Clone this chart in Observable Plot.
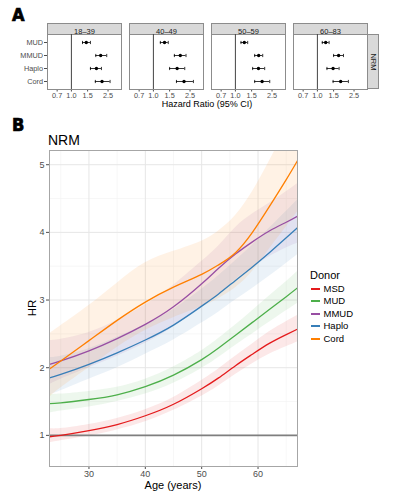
<!DOCTYPE html>
<html><head><meta charset="utf-8">
<script src="https://cdn.jsdelivr.net/npm/d3@7"></script>
<script src="https://cdn.jsdelivr.net/npm/@observablehq/plot@0.6"></script>
<style>
body{margin:0;background:#fff;font-family:"Liberation Sans",Arial,sans-serif;}
#wrap{position:relative;width:393px;height:500px;overflow:hidden;background:#fff;}
.abs{position:absolute;white-space:nowrap;line-height:1;}
.plot{position:absolute;left:0;}
.letter{font-family:"Liberation Sans Narrow","DejaVu Sans Condensed",sans-serif;font-weight:bold;font-size:18px;color:#000;-webkit-text-stroke:0.7px #000;}
</style></head><body><div id="wrap"></div>
<script>
// ---- Panel A data ----
const ageGroups = ["18–39", "40–49", "50–59", "60–83"];
const donorsA = ["MUD", "MMUD", "Haplo", "Cord"];
const hrA = [[1.45, 2.08, 1.87, 2.15], [1.32, 1.96, 1.81, 2.15], [1.25, 1.79, 1.78, 1.95], [1.23, 1.70, 1.48, 1.79]];
const loA = [[1.32, 1.84, 1.61, 1.82], [1.19, 1.69, 1.50, 1.78], [1.15, 1.62, 1.54, 1.62], [1.13, 1.50, 1.27, 1.48]];
const hiA = [[1.61, 2.42, 2.12, 2.63], [1.45, 2.26, 2.19, 2.72], [1.36, 1.98, 2.08, 2.36], [1.34, 1.92, 1.72, 2.17]];
const xTicksA = [0.7, 1.0, 1.5, 2.5];

// ---- Panel B data ----
const donorsB = ["MSD", "MUD", "MMUD", "Haplo", "Cord"];
const colorsB = ["#E41A1C", "#4DAF4A", "#984EA3", "#377EB8", "#FF7F00"];
const ages = [23, 25, 30, 35, 40, 45, 50, 53, 56, 59, 62, 65, 67];
const hrMSD = [0.98, 1.0, 1.07, 1.16, 1.29, 1.46, 1.69, 1.85, 2.03, 2.2, 2.36, 2.49, 2.57];
const loMSD = [0.89, 0.92, 0.99, 1.08, 1.2, 1.37, 1.58, 1.73, 1.9, 2.06, 2.2, 2.31, 2.38];
const hiMSD = [1.1, 1.1, 1.16, 1.25, 1.38, 1.56, 1.81, 1.98, 2.17, 2.35, 2.53, 2.68, 2.77];
const hrMUD = [1.47, 1.48, 1.53, 1.6, 1.72, 1.89, 2.12, 2.29, 2.48, 2.67, 2.86, 3.05, 3.18];
const loMUD = [1.33, 1.36, 1.42, 1.5, 1.61, 1.77, 1.99, 2.15, 2.33, 2.5, 2.67, 2.84, 2.95];
const hiMUD = [1.61, 1.61, 1.65, 1.71, 1.83, 2.01, 2.25, 2.43, 2.63, 2.84, 3.06, 3.27, 3.42];
const hrMMUD = [2.05, 2.1, 2.25, 2.43, 2.64, 2.9, 3.24, 3.47, 3.68, 3.86, 4.02, 4.15, 4.24];
const loMMUD = [1.75, 1.83, 2.0, 2.17, 2.36, 2.6, 2.9, 3.08, 3.3, 3.48, 3.64, 3.77, 3.84];
const hiMMUD = [2.4, 2.42, 2.52, 2.7, 2.93, 3.22, 3.57, 3.8, 4.07, 4.27, 4.43, 4.6, 4.72];
const hrHaplo = [1.85, 1.9, 2.05, 2.22, 2.41, 2.63, 2.91, 3.09, 3.29, 3.49, 3.7, 3.92, 4.07];
const loHaplo = [1.6, 1.66, 1.83, 2.0, 2.2, 2.41, 2.66, 2.82, 3.0, 3.17, 3.35, 3.54, 3.67];
const hiHaplo = [2.15, 2.17, 2.28, 2.45, 2.63, 2.86, 3.16, 3.36, 3.58, 3.81, 4.06, 4.31, 4.48];
const hrCord = [1.98, 2.1, 2.4, 2.7, 2.97, 3.19, 3.38, 3.52, 3.7, 4.0, 4.38, 4.78, 5.06];
const loCord = [1.56, 1.7, 2.0, 2.3, 2.55, 2.74, 2.9, 3.02, 3.18, 3.42, 3.75, 4.08, 4.3];
const hiCord = [2.5, 2.62, 2.92, 3.25, 3.55, 3.72, 3.87, 4.02, 4.25, 4.6, 5.05, 5.55, 5.95];
const ageTicks = [30, 40, 50, 60];
const ageMinor = [25, 35, 45, 55, 65];
const hrTicks = [1, 2, 3, 4, 5];
const hrMinor = [1.5, 2.5, 3.5, 4.5];

const wrap = document.getElementById("wrap");
function addDiv(html, css, cls) {
  const d = document.createElement("div");
  d.className = "abs" + (cls ? " " + cls : "");
  d.innerHTML = html;
  Object.assign(d.style, css);
  wrap.appendChild(d);
  return d;
}

// vertical bar symbol for error-bar caps
const capSymbol = {
  draw(context, size) {
    const h = Math.sqrt(size / Math.PI);
    context.moveTo(0, -h);
    context.lineTo(0, h);
  }
};

// ---- Panel A ----
const rowsA = [];
ageGroups.forEach((g, i) => donorsA.forEach((d, j) =>
  rowsA.push({group: g, donor: d, hr: hrA[i][j], lo: loA[i][j], hi: hiA[i][j]})));

const plotA = Plot.plot({
  width: 393, height: 115,
  marginLeft: 46, marginRight: 26, marginTop: 34, marginBottom: 26,
  style: {fontFamily: "'Liberation Sans', Arial, sans-serif", fontSize: "7.3px", color: "#4d4d4d", background: "transparent", overflow: "visible"},
  fx: {domain: ageGroups, paddingInner: 0.1, paddingOuter: 0, axis: null, label: null},
  x: {type: "log", domain: [0.55, 3.5], ticks: xTicksA, tickFormat: d3.format(".1f"), tickSize: 2.5, tickPadding: 1, label: null},
  y: {type: "point", domain: donorsA, padding: 0.615, tickSize: 3, tickPadding: 1.5, label: null},
  marks: [
    Plot.frame({stroke: "#8c8c8c", fill: "white"}),
    Plot.frame({fill: "#d9d9d9", stroke: "#8c8c8c", insetTop: -11, insetBottom: 55}),
    Plot.text(ageGroups, {fx: d => d, text: d => d, frameAnchor: "top", dy: -5.5, fill: "#1a1a1a", fontSize: 7.5}),
    Plot.ruleX([1], {stroke: "#444", strokeWidth: 1}),
    Plot.ruleY(rowsA, {fx: "group", y: "donor", x1: "lo", x2: "hi", stroke: "black", strokeWidth: 0.8}),
    Plot.dot(rowsA, {fx: "group", y: "donor", x: "lo", symbol: capSymbol, r: 1.6, stroke: "black", strokeWidth: 0.8, fill: "none"}),
    Plot.dot(rowsA, {fx: "group", y: "donor", x: "hi", symbol: capSymbol, r: 1.6, stroke: "black", strokeWidth: 0.8, fill: "none"}),
    Plot.dot(rowsA, {fx: "group", y: "donor", x: "hr", r: 1.7, fill: "black", stroke: "none"})
  ]
});
plotA.classList.add("plot");
plotA.style.top = "0px";
wrap.appendChild(plotA);

// NRM right strip for panel A
const strip = addDiv("", {left: "367px", top: "34px", width: "12px", height: "55px", background: "#d9d9d9", border: "1px solid #8c8c8c", boxSizing: "border-box"});
const stripTxt = document.createElement("div");
stripTxt.textContent = "NRM";
Object.assign(stripTxt.style, {position: "absolute", left: "50%", top: "50%", transform: "translate(-50%,-50%) rotate(90deg)", fontSize: "7.5px", color: "#1a1a1a", lineHeight: "1", whiteSpace: "nowrap"});
strip.appendChild(stripTxt);

addDiv("Hazard Ratio (95% CI)", {left: "107px", width: "200px", textAlign: "center", top: "100px", fontSize: "9px", color: "#000"});
addDiv("A", {left: "12px", top: "6px"}, "letter");
addDiv("B", {left: "12px", top: "116px"}, "letter");

// ---- Panel B ----
const series = [
  {name: "MSD", hr: hrMSD, lo: loMSD, hi: hiMSD},
  {name: "MUD", hr: hrMUD, lo: loMUD, hi: hiMUD},
  {name: "MMUD", hr: hrMMUD, lo: loMMUD, hi: hiMMUD},
  {name: "Haplo", hr: hrHaplo, lo: loHaplo, hi: hiHaplo},
  {name: "Cord", hr: hrCord, lo: loCord, hi: hiCord}
];
const rowsB = series.flatMap(s => ages.map((a, i) => ({donor: s.name, age: a, hr: s.hr[i], lo: s.lo[i], hi: s.hi[i]})));

const plotB = Plot.plot({
  width: 393, height: 360,
  marginLeft: 49, marginRight: 96, marginTop: 10, marginBottom: 34,
  style: {fontFamily: "'Liberation Sans', Arial, sans-serif", fontSize: "9px", color: "#4d4d4d", background: "transparent"},
  x: {domain: [23, 67], ticks: ageTicks, tickFormat: d3.format("d"), tickSize: 3, tickPadding: 1.5, label: null},
  y: {domain: [0.54, 5.21], ticks: hrTicks, tickFormat: d3.format("d"), tickSize: 3, tickPadding: 2, label: null},
  color: {domain: donorsB, range: colorsB},
  marks: [
    Plot.ruleX(ageMinor, {stroke: "#f2f2f2", strokeWidth: 0.6}),
    Plot.ruleY(hrMinor, {stroke: "#f2f2f2", strokeWidth: 0.6}),
    Plot.ruleX(ageTicks, {stroke: "#e6e6e6", strokeWidth: 1}),
    Plot.ruleY(hrTicks, {stroke: "#e6e6e6", strokeWidth: 1}),
    Plot.areaY(rowsB, {x: "age", y1: "lo", y2: "hi", fill: "donor", fillOpacity: 0.1, curve: "natural", clip: true}),
    Plot.ruleY([1], {stroke: "#7f7f7f", strokeWidth: 1.7}),
    Plot.line(rowsB, {x: "age", y: "hr", stroke: "donor", strokeWidth: 1.3, curve: "natural", clip: true}),
    Plot.frame({stroke: "#a6a6a6"})
  ]
});
plotB.classList.add("plot");
plotB.style.top = "140px";
wrap.appendChild(plotB);

addDiv("NRM", {left: "48px", top: "133px", fontSize: "14px", color: "#000"});
addDiv("HR", {left: "33px", top: "308px", transform: "translate(-50%,-50%) rotate(-90deg)", fontSize: "11.5px", color: "#000"});
addDiv("Age (years)", {left: "73px", width: "200px", textAlign: "center", top: "479.5px", fontSize: "11px", color: "#000"});

// Legend
addDiv("Donor", {left: "310px", top: "270px", fontSize: "11px", color: "#000"});
const legY = [289, 301, 314, 326, 339];
donorsB.forEach((d, i) => {
  addDiv("", {left: "311px", top: (legY[i] - 1) + "px", width: "9px", height: "2px", background: colorsB[i]});
  addDiv(d, {left: "323.5px", top: (legY[i] - 4.6) + "px", fontSize: "9.5px", color: "#000"});
});
</script></body></html>
